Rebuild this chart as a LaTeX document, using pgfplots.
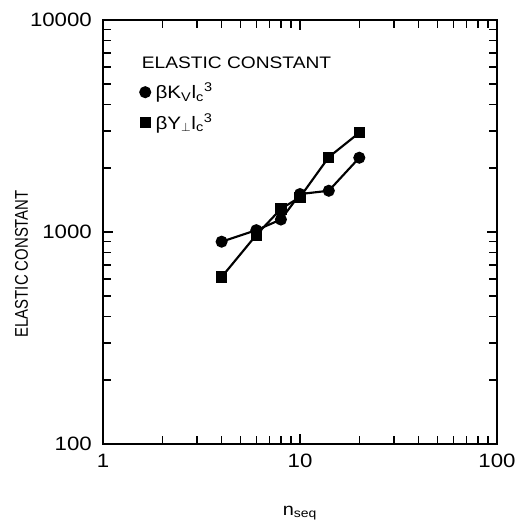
\documentclass[border=0pt]{standalone}
\usepackage{fontspec}
\setmainfont{Liberation Sans}[FakeStretch=1.15]
\newfontfamily\ylfont{Liberation Sans}[FakeStretch=0.81]
\usepackage{pgfplots}
\pgfplotsset{compat=1.18}

% circles: beta K_V l_c^3, squares: beta Y_perp l_c^3
\pgfplotstableread{
n    K
4    900
6    1020
8    1145
10   1510
14   1565
20   2240
}\kdata
\pgfplotstableread{
n    Y
4    613
6    968
8    1285
10   1460
14   2255
20   2940
}\ydata

\newcommand\chartfont{\fontsize{12.5}{15}\selectfont}
\newcommand\tickfont{\fontsize{14.5}{17}\selectfont}

\begin{document}
\chartfont
\begin{tikzpicture}
\begin{axis}[
  name=ax,
  font=\chartfont,
  scale only axis,
  width=295.5pt, height=318pt,
  xmode=log, ymode=log,
  xmin=1, xmax=100, ymin=100, ymax=10000,
  xtick={1,10,100}, xticklabels={\mbox{1},\mbox{10},\mbox{100}},
  ytick={100,1000,10000}, yticklabels={\mbox{100},\mbox{1000},\mbox{10000}},
  tick label style={font=\tickfont},
  axis line style={line width=1.5pt},
  every tick/.style={black, line width=1.1pt},
  major tick length=7.5pt,
  minor tick length=6pt,
  tick align=inside,
  xticklabel style={yshift=-3pt},
  yticklabel style={xshift=-4pt},
  xlabel={n\textsubscript{seq}},
  xlabel style={at={(rel axis cs:0.5,-0.163)}, anchor=center,
    font=\fontsize{13}{15}\selectfont},
  ylabel={ELASTIC CONSTANT},
  ylabel style={at={(rel axis cs:-0.207,0.425)}, anchor=center,
    font=\fontsize{13.8}{16}\ylfont},
  clip=false,
  legend style={draw=none, fill=none, at={(rel axis cs:0.094,0.855)},
    anchor=north west, inner sep=0pt, row sep=7pt, column sep=3pt,
    nodes={inner sep=1pt}, font=\fontsize{13.5}{16}\selectfont},
  legend cell align=left,
  legend image code/.code={\draw[only marks] plot coordinates {(0.15cm,0cm)};},
]
\addplot[black, line width=1.6pt, mark=*, mark size=3.7pt] table[x=n, y=K] {\kdata};
\addplot[black, line width=1.6pt, mark=square*, mark size=3.4pt] table[x=n, y=Y] {\ydata};
\legend{βK\textsubscript{V}l\textsubscript{c}\textsuperscript{3},
        βY\textsubscript{$\perp$}l\textsubscript{c}\textsuperscript{3}}
\node[anchor=west, inner sep=0pt] at (rel axis cs:0.098,0.90) {ELASTIC CONSTANT};
\end{axis}
\pgfresetboundingbox
\useasboundingbox ([xshift=-77.25pt,yshift=-62.25pt]ax.south west) rectangle ++(385.5pt,395.25pt);
\end{tikzpicture}
\end{document}
